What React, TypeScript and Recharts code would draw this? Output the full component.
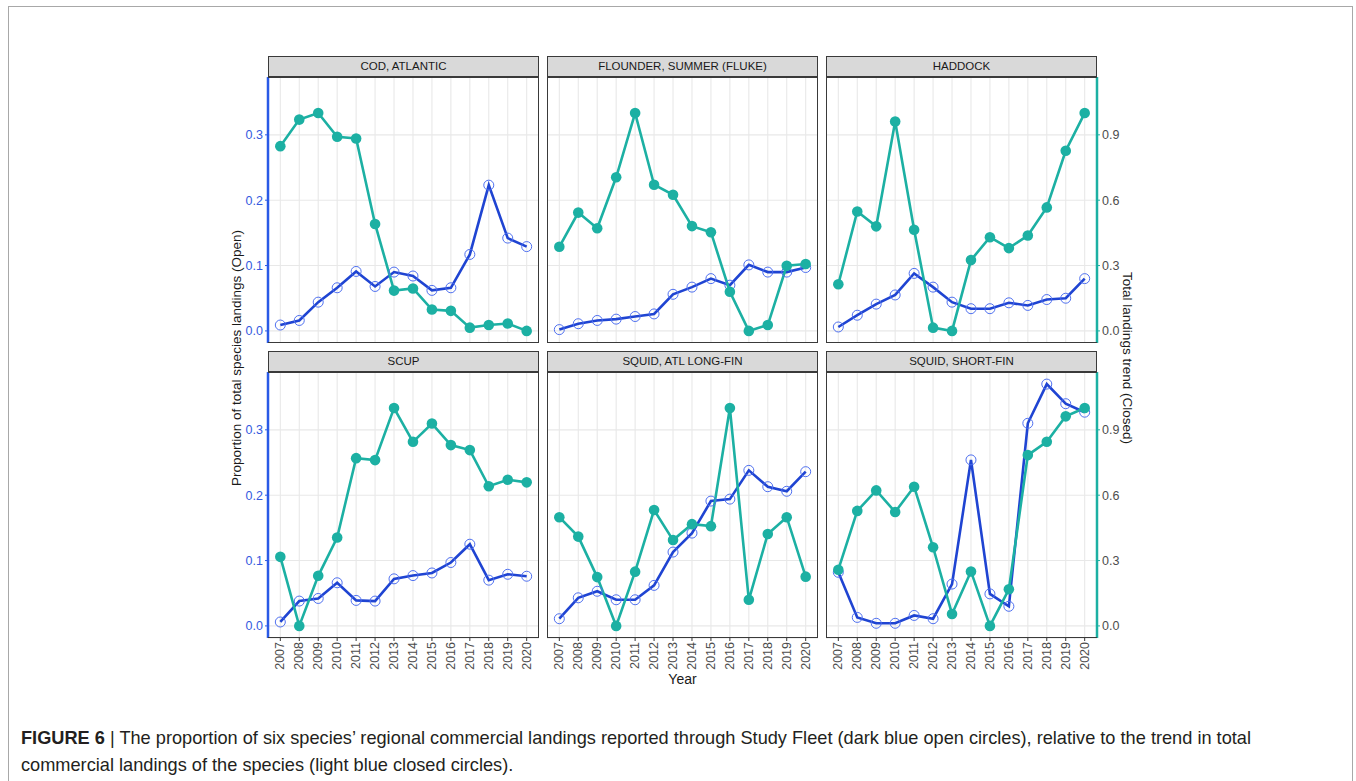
import { LineChart, Line, XAxis, YAxis, CartesianGrid } from 'recharts'

// Landing years shared by every panel
const years = [2007, 2008, 2009, 2010, 2011, 2012, 2013, 2014, 2015, 2016, 2017, 2018, 2019, 2020]

const species = [
  'COD, ATLANTIC',
  'FLOUNDER, SUMMER (FLUKE)',
  'HADDOCK',
  'SCUP',
  'SQUID, ATL LONG-FIN',
  'SQUID, SHORT-FIN',
]

// proportion of landings reported through Study Fleet (open circles, left axis)
const codOpen = [0.009, 0.016, 0.044, 0.066, 0.091, 0.068, 0.09, 0.084, 0.062, 0.066, 0.117, 0.223, 0.142, 0.129]
const flukeOpen = [0.002, 0.011, 0.016, 0.018, 0.022, 0.026, 0.056, 0.067, 0.08, 0.07, 0.101, 0.09, 0.09, 0.097]
const haddockOpen = [0.006, 0.024, 0.041, 0.055, 0.088, 0.067, 0.044, 0.034, 0.034, 0.043, 0.039, 0.048, 0.05, 0.08]
const scupOpen = [0.006, 0.038, 0.042, 0.066, 0.039, 0.038, 0.072, 0.077, 0.081, 0.097, 0.125, 0.07, 0.079, 0.076]
const longfinOpen = [0.011, 0.043, 0.053, 0.04, 0.04, 0.062, 0.113, 0.142, 0.191, 0.194, 0.238, 0.213, 0.206, 0.236]
const shortfinOpen = [0.082, 0.013, 0.004, 0.004, 0.016, 0.011, 0.064, 0.254, 0.049, 0.03, 0.31, 0.37, 0.34, 0.327]

// scaled trend in total landings (closed circles, right axis)
const codClosed = [0.848, 0.97, 1.0, 0.891, 0.883, 0.491, 0.185, 0.195, 0.098, 0.092, 0.015, 0.027, 0.034, 0.0]
const flukeClosed = [0.386, 0.543, 0.471, 0.705, 1.0, 0.671, 0.625, 0.481, 0.453, 0.18, 0.0, 0.027, 0.299, 0.307]
const haddockClosed = [0.214, 0.548, 0.48, 0.961, 0.464, 0.015, 0.0, 0.325, 0.43, 0.38, 0.438, 0.567, 0.827, 1.0]
const scupClosed = [0.317, 0.0, 0.23, 0.406, 0.77, 0.761, 1.0, 0.845, 0.929, 0.83, 0.807, 0.641, 0.671, 0.659]
const longfinClosed = [0.499, 0.41, 0.224, 0.0, 0.249, 0.532, 0.394, 0.467, 0.458, 1.0, 0.12, 0.422, 0.499, 0.226]
const shortfinClosed = [0.258, 0.528, 0.622, 0.523, 0.639, 0.361, 0.055, 0.25, 0.0, 0.168, 0.784, 0.845, 0.962, 1.0]

const openSeries = [codOpen, flukeOpen, haddockOpen, scupOpen, longfinOpen, shortfinOpen]
const closedSeries = [codClosed, flukeClosed, haddockClosed, scupClosed, longfinClosed, shortfinClosed]

const openTicks = [0, 0.1, 0.2, 0.3]
const closedTicks = [0, 0.3, 0.6, 0.9]
const openMinor = [0.05, 0.15, 0.25, 0.35]
const halfYears = [...years.map((y) => y - 0.5), years[years.length - 1] + 0.5]

// secondary axis is the primary one times 3
const SEC = 3

// shared scales with ggplot-style 5% expansion
const hi = Math.max(...openSeries.flat(), ...closedSeries.flat().map((v) => v / SEC))
const pad = hi * 0.05
const openDomain: [number, number] = [-pad, hi + pad]
const closedDomain: [number, number] = [-pad * SEC, (hi + pad) * SEC]
const xPad = (years[years.length - 1] - years[0]) * 0.05
const xDomain: [number, number] = [years[0] - xPad, years[years.length - 1] + xPad]

const BLUE = '#1f44d2'
const BLUE_AXIS = '#2a5ae6'
const BLUE_PT = '#4f70f0'
const TEAL = '#1cb0a3'

const COL_X = [268, 547, 826]
const ROW_Y = [77, 372]
const PANEL_W = 271
const PLOT_H = 266
const STRIP_H = 21
const AXIS_W = 40
const XAXIS_H = 36
const TICK_FS = 12.5

function YearTick(props: any) {
  const { x, y, payload } = props
  return (
    <text
      transform={`translate(${x},${y - 1}) rotate(-90)`}
      textAnchor="end"
      dominantBaseline="central"
      fontSize={TICK_FS}
      fill="#4d4d4d"
    >
      {payload.value}
    </text>
  )
}

function Panel({ idx }: { idx: number }) {
  const col = idx % 3
  const row = Math.floor(idx / 3)
  const showLeft = col === 0
  const showRight = col === 2
  const showX = row === 1
  const left = COL_X[col] - (showLeft ? AXIS_W : 0)
  const width = PANEL_W + (showLeft || showRight ? AXIS_W : 0)
  const height = PLOT_H + (showX ? XAXIS_H : 0)
  const data = years.map((year, i) => ({
    year,
    open: openSeries[idx][i],
    closed: closedSeries[idx][i],
  }))

  return (
    <>
      <div
        style={{
          position: 'absolute',
          left: COL_X[col],
          top: ROW_Y[row] - STRIP_H,
          width: PANEL_W,
          height: STRIP_H,
          boxSizing: 'border-box',
          background: '#d9d9d9',
          border: '1px solid #3a3a3a',
          fontSize: 11.5,
          color: '#1a1a1a',
          textAlign: 'center',
          lineHeight: `${STRIP_H - 2}px`,
        }}
      >
        {species[idx]}
      </div>
      <div style={{ position: 'absolute', left, top: ROW_Y[row] }}>
        <LineChart width={width} height={height} data={data} margin={{ top: 0, right: 0, bottom: 0, left: 0 }}>
          <XAxis
            xAxisId="yr"
            type="number"
            dataKey="year"
            domain={xDomain}
            allowDataOverflow
            ticks={years}
            interval={0}
            hide={!showX}
            height={XAXIS_H}
            axisLine={false}
            tickSize={3}
            tickLine={{ stroke: '#333' }}
            tick={<YearTick />}
          />
          {/* zero-size axes that only feed the minor grid */}
          <XAxis
            xAxisId="half"
            type="number"
            dataKey="year"
            domain={xDomain}
            allowDataOverflow
            ticks={halfYears}
            interval={0}
            height={0}
            tick={false}
            tickLine={false}
            axisLine={false}
          />
          <YAxis
            yAxisId="open"
            orientation="left"
            domain={openDomain}
            allowDataOverflow
            ticks={openTicks}
            interval={0}
            hide={!showLeft}
            width={AXIS_W}
            tickSize={3}
            tickFormatter={(v: number) => v.toFixed(1)}
            tick={{ fill: '#3559e0', fontSize: TICK_FS }}
            tickLine={{ stroke: BLUE_AXIS }}
            axisLine={{ stroke: BLUE_AXIS, strokeWidth: 2.5 }}
          />
          <YAxis
            yAxisId="closed"
            orientation="right"
            domain={closedDomain}
            allowDataOverflow
            ticks={closedTicks}
            interval={0}
            hide={!showRight}
            width={AXIS_W}
            tickSize={3}
            tickFormatter={(v: number) => v.toFixed(1)}
            tick={{ fill: '#4d4d4d', fontSize: TICK_FS }}
            tickLine={{ stroke: TEAL }}
            axisLine={{ stroke: TEAL, strokeWidth: 2.5 }}
          />
          <YAxis
            yAxisId="fine"
            orientation="right"
            domain={openDomain}
            allowDataOverflow
            ticks={openMinor}
            interval={0}
            width={0}
            tick={false}
            tickLine={false}
            axisLine={false}
          />
          <CartesianGrid xAxisId="half" yAxisId="fine" stroke="#f2f2f2" strokeWidth={0.7} />
          <CartesianGrid xAxisId="yr" yAxisId="open" stroke="#e8e8e8" strokeWidth={1.1} />
          <Line
            xAxisId="yr"
            yAxisId="open"
            dataKey="open"
            stroke={BLUE}
            strokeWidth={2.6}
            dot={{ r: 5, fill: 'none', stroke: BLUE_PT, strokeWidth: 1 }}
            isAnimationActive={false}
          />
          <Line
            xAxisId="yr"
            yAxisId="closed"
            dataKey="closed"
            stroke={TEAL}
            strokeWidth={2.6}
            dot={{ r: 5.3, fill: TEAL, stroke: TEAL, strokeWidth: 0 }}
            isAnimationActive={false}
          />
        </LineChart>
      </div>
      <div
        style={{
          position: 'absolute',
          left: COL_X[col],
          top: ROW_Y[row],
          width: PANEL_W,
          height: PLOT_H,
          boxSizing: 'border-box',
          border: '1px solid #3a3a3a',
          borderLeft: showLeft ? 'none' : '1px solid #3a3a3a',
          borderRight: showRight ? 'none' : '1px solid #3a3a3a',
          pointerEvents: 'none',
        }}
      />
    </>
  )
}

export default function App() {
  const midY = (ROW_Y[0] + ROW_Y[1] + PLOT_H) / 2
  return (
    <div
      style={{
        position: 'absolute',
        left: 0,
        top: 0,
        width: 1356,
        height: 781,
        overflow: 'hidden',
        background: '#fff',
        fontFamily: "'Liberation Sans', Arial, sans-serif",
      }}
    >
      <div
        style={{
          position: 'absolute',
          left: 8,
          top: 6,
          width: 1345,
          height: 820,
          boxSizing: 'border-box',
          border: '1.5px solid #a8a8a8',
        }}
      />
      {species.map((_, i) => (
        <Panel key={i} idx={i} />
      ))}
      <div
        style={{
          position: 'absolute',
          left: 236,
          top: midY,
          transform: 'translate(-50%, -50%) rotate(-90deg)',
          whiteSpace: 'nowrap',
          fontSize: 13.5,
          color: '#1a1a1a',
        }}
      >
        Proportion of total species landings (Open)
      </div>
      <div
        style={{
          position: 'absolute',
          left: 1127,
          top: midY,
          transform: 'translate(-50%, -50%) rotate(90deg)',
          whiteSpace: 'nowrap',
          fontSize: 13.5,
          color: '#1a1a1a',
        }}
      >
        Total landings trend (Closed)
      </div>
      <div
        style={{
          position: 'absolute',
          left: (COL_X[0] + COL_X[2] + PANEL_W) / 2,
          top: 679,
          transform: 'translate(-50%, -50%)',
          fontSize: 14,
          color: '#1a1a1a',
        }}
      >
        Year
      </div>
      <div
        style={{
          position: 'absolute',
          left: 21,
          top: 725,
          fontSize: 18.2,
          lineHeight: '27px',
          color: '#231f20',
          whiteSpace: 'nowrap',
        }}
      >
        <b>FIGURE 6</b> | The proportion of six species’ regional commercial landings reported through Study Fleet (dark blue open circles), relative to the trend in total
        <br />
        commercial landings of the species (light blue closed circles).
      </div>
    </div>
  )
}
